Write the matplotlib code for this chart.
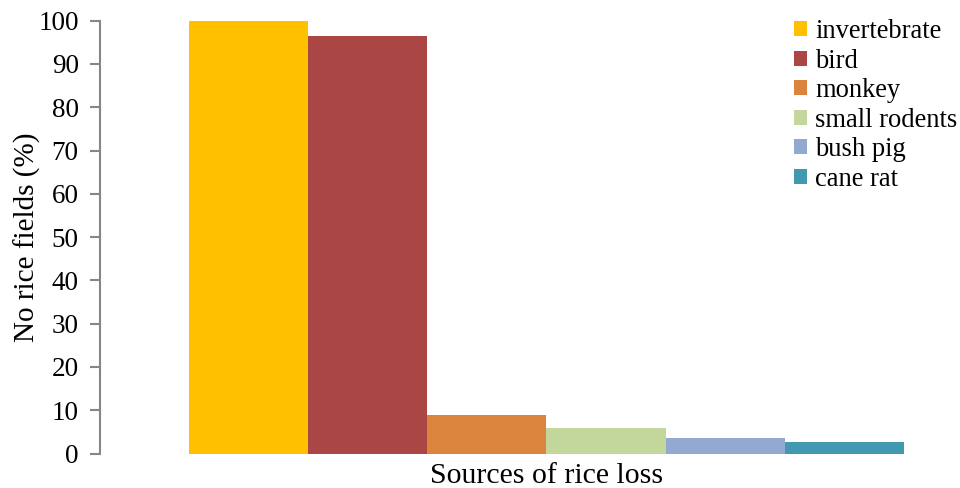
import matplotlib
matplotlib.use("Agg")
import matplotlib.pyplot as plt
from matplotlib.patches import Patch

plt.rcParams['font.family'] = ['Liberation Serif', 'DejaVu Serif']

# Share of rice fields reporting each source of loss
sources = ["invertebrate", "bird", "monkey", "small rodents", "bush pig", "cane rat"]
percent = [100.0, 96.4, 8.8, 6.0, 3.5, 2.6]
colors = ["#FFC000", "#AA4643", "#DB843D", "#C3D69B", "#93A9CF", "#4198AF"]
yticks = list(range(0, 101, 10))

fig = plt.figure(figsize=(9.6, 4.88), dpi=100)
ax = fig.add_axes([99.5 / 960, 34.5 / 488, (960 - 99.5) / 960, (453.5 - 20.7) / 488])

positions = list(range(len(sources)))
ax.bar(positions, percent, width=1.0, color=colors, linewidth=0)

ax.set_ylim(0, 100)
ax.set_xlim(-1.251, 5.97)
ax.set_yticks(yticks)
ax.set_xticks([])

for side in ("top", "right", "bottom"):
    ax.spines[side].set_visible(False)
ax.spines["left"].set_color("#868686")
ax.spines["left"].set_linewidth(1.5)
ax.tick_params(axis="y", direction="out", length=7, width=1.5, color="#868686",
               labelsize=19.5, pad=8)

ax.set_ylabel("No rice fields (%)", fontsize=21, labelpad=-2)
ax.set_xlabel("Sources of rice loss", fontsize=21.5)
ax.xaxis.set_label_coords((547 - 99.5) / (960 - 99.5), -0.022, transform=ax.transAxes)
ax.xaxis.label.set_va("top")

handles = [Patch(facecolor=c, edgecolor="none", label=s) for s, c in zip(sources, colors)]
fig.legend(handles=handles, loc="upper left", bbox_to_anchor=(794 / 960, 1 - 19 / 488),
           frameon=False, fontsize=19.1, handlelength=0.5, handleheight=0.5,
           handletextpad=0.3, labelspacing=0.17, borderaxespad=0, borderpad=0)

fig.savefig("out.png", dpi=100)
